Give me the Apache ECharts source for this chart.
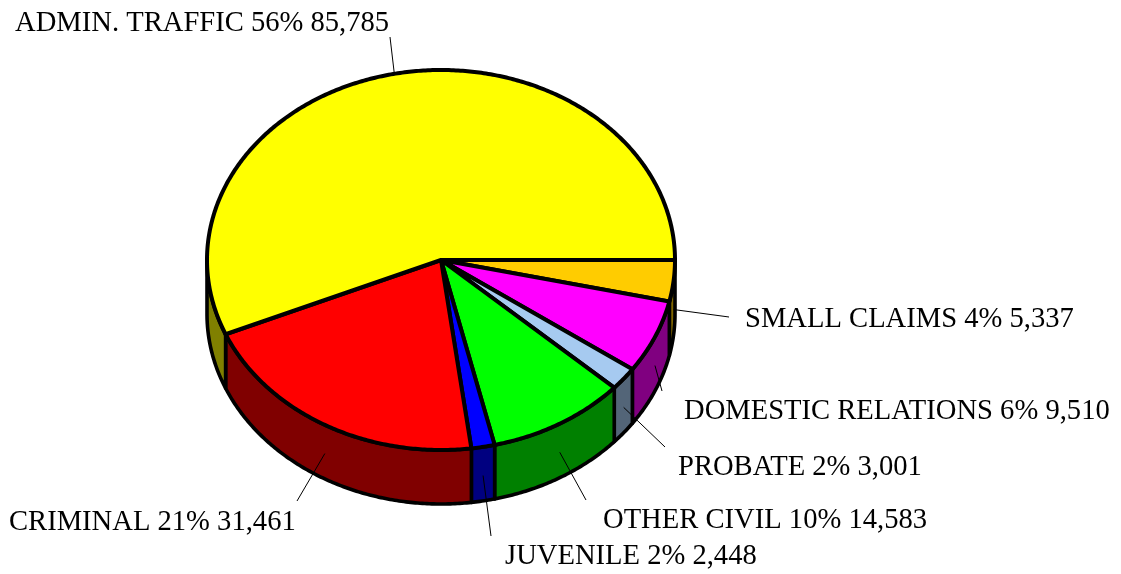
<!DOCTYPE html>
<html>
<head>
<meta charset="utf-8">
<title>Case filings by type</title>
<style>
  html, body { margin: 0; padding: 0; background: #fff; }
  #chart { width: 1121px; height: 574px; }
</style>
<script src="https://cdn.jsdelivr.net/npm/echarts@6/dist/echarts.min.js"></script>
</head>
<body>
<div id="chart"></div>
<script>
// Case types, clockwise from three o'clock
const categories = ['SMALL CLAIMS', 'DOMESTIC RELATIONS', 'PROBATE', 'OTHER CIVIL', 'JUVENILE', 'CRIMINAL', 'ADMIN. TRAFFIC'];
const caseCounts = [5337, 9510, 3001, 14583, 2448, 31461, 85785];
const percentLabels = [4, 6, 2, 10, 2, 21, 56];

// Face and wall colours of each slice
const topColors = ['#FFCC00', '#FF00FF', '#A6CAF0', '#00FF00', '#0000FF', '#FF0000', '#FFFF00'];
const wallColors = ['#806600', '#800080', '#536578', '#008000', '#000080', '#800000', '#808000'];

// Label placement: text anchor (left, middle) and outer end of the leader line
const labelX = [745, 684, 678, 603, 505, 9, 15];
const labelY = [319, 411, 467, 520, 556, 522, 23];
const leaderEndX = [729, 662, 665, 586, 491, 297, 390];
const leaderEndY = [317, 391, 447, 500, 536, 501, 37];

// Pie geometry in pixels
const cx = 441, cy = 260, rx = 234, ry = 190, depth = 54;
const topOutline = 4;
const wallOutline = 3.6;
const labelFont = '28.6px "Liberation Serif", "Times New Roman", serif';

const total = caseCounts.reduce((a, b) => a + b, 0);
const sliceStart = [];
let running = 0;
for (const v of caseCounts) {
  sliceStart.push(running);
  running += v / total * 2 * Math.PI;
}
const sliceEnd = i => sliceStart[i] + caseCounts[i] / total * 2 * Math.PI;

const rimPoint = (a, drop) => [cx + rx * Math.cos(a), cy + ry * Math.sin(a) + drop];

function arcPoints(a0, a1, drop) {
  const steps = Math.max(2, Math.ceil((a1 - a0) / 0.01));
  const pts = [];
  for (let s = 0; s <= steps; s++) pts.push(rimPoint(a0 + (a1 - a0) * s / steps, drop));
  return pts;
}

function renderWall(params, api) {
  const i = api.value(0);
  const a0 = sliceStart[i];
  const a1 = Math.min(sliceEnd(i), Math.PI);
  if (a0 >= Math.PI) return null;
  const points = arcPoints(a0, a1, 0).concat(arcPoints(a0, a1, depth).reverse());
  return {
    type: 'polygon',
    shape: { points },
    style: { fill: wallColors[i], stroke: '#000', lineWidth: wallOutline, lineJoin: 'round' }
  };
}

function renderTop(params, api) {
  const i = api.value(0);
  const points = [[cx, cy]].concat(arcPoints(sliceStart[i], sliceEnd(i), 0));
  return {
    type: 'polygon',
    shape: { points },
    style: { fill: topColors[i], stroke: '#000', lineWidth: topOutline, lineJoin: 'miter', miterLimit: 4 }
  };
}

function renderLabel(params, api) {
  const i = api.value(0);
  const mid = (sliceStart[i] + sliceEnd(i)) / 2;
  const onFront = Math.sin(mid) > 0;
  const start = rimPoint(mid, onFront ? depth * 0.53 : 0);
  return {
    type: 'group',
    children: [
      {
        type: 'line',
        shape: { x1: start[0], y1: start[1], x2: leaderEndX[i], y2: leaderEndY[i] },
        style: { stroke: '#000', lineWidth: 1 }
      },
      {
        type: 'text',
        style: {
          text: categories[i] + ' ' + percentLabels[i] + '% ' + caseCounts[i].toLocaleString('en-US'),
          x: labelX[i],
          y: labelY[i],
          font: labelFont,
          fill: '#000',
          align: 'left',
          verticalAlign: 'middle'
        }
      }
    ]
  };
}

const sliceData = caseCounts.map((v, i) => [i, v]);
const chart = echarts.init(document.getElementById('chart'), null, { renderer: 'canvas' });
chart.setOption({
  backgroundColor: '#fff',
  animation: false,
  series: [
    { type: 'custom', coordinateSystem: 'none', silent: true, z: 1, data: sliceData, renderItem: renderWall },
    { type: 'custom', coordinateSystem: 'none', silent: true, z: 2, data: sliceData, renderItem: renderTop },
    { type: 'custom', coordinateSystem: 'none', silent: true, z: 3, data: sliceData, renderItem: renderLabel }
  ]
});
</script>
</body>
</html>
